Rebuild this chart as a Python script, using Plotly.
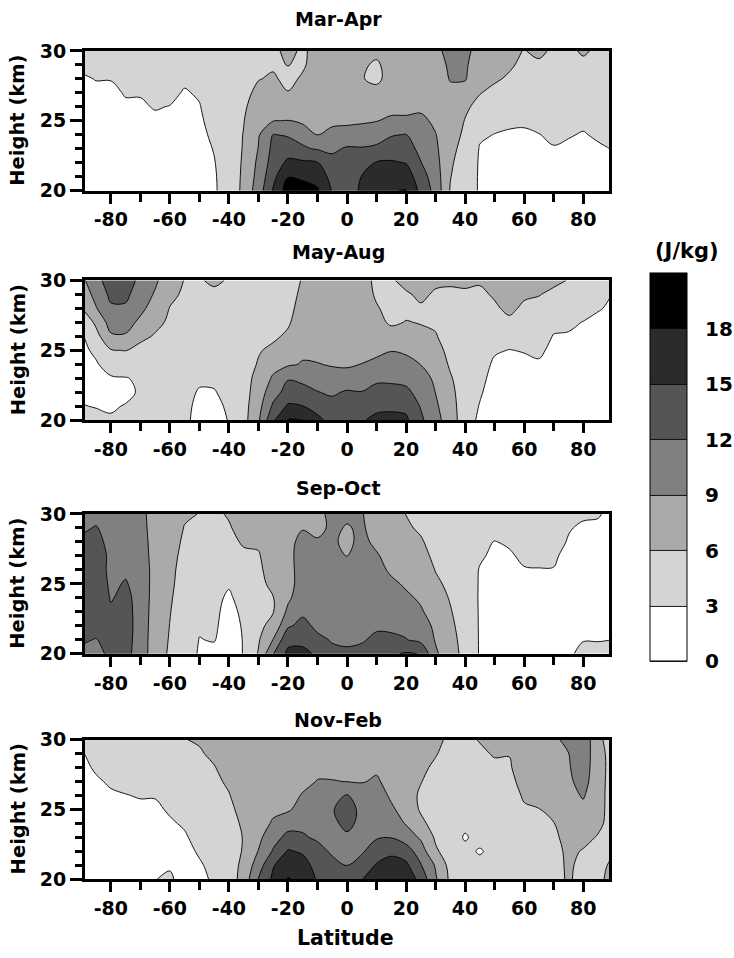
import numpy as np
import plotly.graph_objects as go

# ---------------- data ----------------
LATITUDE = [-90, -85, -80, -75, -70, -65, -60, -55, -50, -45, -40, -35, -30, -25, -20, -15, -10, -5,
            0, 5, 10, 15, 20, 25, 30, 35, 40, 45, 50, 55, 60, 65, 70, 75, 80, 85, 90]
HEIGHT_KM = [20, 21, 22, 23, 24, 25, 26, 27, 28, 29, 30]

# each inner list: values (J/kg) at heights 20..30 km for one latitude column
MAR_APR = [
    [1.0, 1.2, 1.4, 1.6, 1.8, 2.0, 2.2, 2.5, 2.8, 3.3, 3.8],
    [1.0, 1.2, 1.4, 1.6, 1.8, 2.1, 2.4, 2.7, 3.05, 3.5, 4.0],
    [1.0, 1.2, 1.4, 1.6, 1.8, 2.1, 2.4, 2.7, 3.05, 3.5, 4.0],
    [1.0, 1.3, 1.6, 1.9, 2.2, 2.5, 2.8, 3.1, 3.5, 3.9, 4.2],
    [1.0, 1.3, 1.6, 1.9, 2.2, 2.5, 2.8, 3.1, 3.5, 3.9, 4.2],
    [1.2, 1.5, 1.8, 2.1, 2.4, 2.7, 3.1, 3.5, 3.9, 4.2, 4.5],
    [1.2, 1.5, 1.8, 2.1, 2.4, 2.7, 2.95, 3.4, 3.8, 4.1, 4.4],
    [1.0, 1.3, 1.6, 1.9, 2.2, 2.4, 2.6, 2.85, 3.3, 3.8, 4.2],
    [1.5, 1.8, 2.1, 2.3, 2.5, 2.7, 2.9, 3.2, 3.6, 4.0, 4.4],
    [2.8, 2.8, 2.9, 3.1, 3.4, 3.7, 4.0, 4.3, 4.6, 4.9, 5.2],
    [3.8, 4.0, 4.2, 4.4, 4.6, 4.8, 5.0, 5.1, 5.2, 5.3, 5.4],
    [6.8, 6.6, 6.4, 6.2, 6.1, 5.9, 5.6, 5.3, 5.0, 4.8, 4.6],
    [10.5, 10.0, 9.6, 9.1, 8.7, 8.2, 7.4, 6.6, 5.9, 5.6, 5.5],
    [15.3, 14.2, 13.3, 12.8, 12.1, 8.9, 7.5, 6.8, 6.3, 5.7, 5.3],
    [19.5, 17.9, 15.6, 13.6, 11.7, 9.1, 7.5, 6.1, 5.4, 6.05, 6.8],
    [19.0, 17.6, 15.5, 12.3, 11.2, 8.3, 7.6, 7.0, 6.3, 5.7, 5.5],
    [18.4, 16.8, 15.1, 11.8, 8.9, 7.9, 7.5, 7.2, 7.0, 7.0, 7.1],
    [14.8, 14.0, 12.9, 11.5, 9.8, 8.4, 7.6, 7.2, 7.0, 6.9, 7.0],
    [13.8, 13.5, 13.0, 12.3, 10.2, 8.4, 7.6, 7.0, 6.6, 6.8, 7.0],
    [15.4, 15.1, 13.5, 12.2, 10.5, 8.6, 7.4, 6.8, 6.1, 6.3, 6.5],
    [17.3, 16.5, 15.2, 12.6, 10.6, 8.9, 7.5, 6.6, 5.6, 5.7, 6.5],
    [17.9, 16.9, 15.3, 13.4, 11.8, 9.6, 8.0, 7.3, 6.7, 6.8, 7.0],
    [18.1, 16.6, 14.9, 13.3, 12.1, 9.5, 8.2, 7.5, 7.0, 6.9, 7.0],
    [14.2, 13.3, 12.1, 11.2, 10.4, 9.6, 8.5, 7.5, 7.0, 6.8, 6.9],
    [11.0, 10.5, 10.0, 9.5, 9.1, 8.5, 7.9, 7.4, 7.2, 7.5, 8.0],
    [5.8, 6.1, 6.4, 6.8, 7.2, 7.5, 7.8, 8.2, 9.2, 9.6, 10.3],
    [4.0, 4.3, 4.6, 5.0, 5.5, 5.9, 6.4, 7.8, 9.2, 9.4, 9.8],
    [2.8, 2.75, 2.75, 2.85, 3.3, 4.2, 5.3, 6.1, 6.8, 7.4, 7.8],
    [1.8, 2.0, 2.3, 2.6, 2.95, 3.6, 4.4, 5.4, 6.3, 6.8, 7.2],
    [1.6, 1.9, 2.2, 2.5, 2.8, 3.3, 4.0, 4.8, 5.7, 6.3, 6.6],
    [1.6, 1.9, 2.2, 2.5, 2.8, 3.2, 3.8, 4.4, 5.0, 5.5, 5.9],
    [1.7, 2.0, 2.3, 2.6, 2.95, 3.5, 4.0, 4.5, 5.0, 5.6, 6.5],
    [1.8, 2.1, 2.5, 2.9, 3.3, 3.7, 4.1, 4.5, 4.9, 5.3, 5.6],
    [1.8, 2.1, 2.4, 2.75, 3.1, 3.5, 3.9, 4.3, 4.7, 5.1, 5.5],
    [1.7, 2.0, 2.3, 2.6, 2.9, 3.3, 3.8, 4.3, 4.8, 5.5, 6.3],
    [1.8, 2.1, 2.4, 2.8, 3.2, 3.6, 4.0, 4.4, 4.8, 5.2, 5.6],
    [1.9, 2.3, 2.7, 3.05, 3.4, 3.8, 4.2, 4.6, 5.0, 5.3, 5.6],
]

MAY_AUG = [
    [3.4, 3.05, 2.8, 2.6, 2.5, 2.5, 2.6, 3.5, 5.8, 7.0, 8.2],
    [3.3, 2.95, 2.7, 2.6, 2.8, 3.4, 5.0, 6.6, 8.8, 10.0, 11.0],
    [3.2, 2.8, 2.5, 2.8, 3.9, 5.8, 8.6, 10.2, 11.6, 12.6, 13.5],
    [3.3, 3.1, 2.6, 2.9, 4.2, 6.1, 8.7, 10.1, 11.6, 12.6, 13.2],
    [3.6, 3.4, 3.2, 3.3, 3.8, 5.0, 6.8, 8.4, 9.7, 10.6, 11.4],
    [3.8, 3.8, 3.8, 3.9, 4.2, 4.8, 5.7, 6.8, 7.8, 8.7, 9.5],
    [3.9, 3.9, 4.0, 4.1, 4.3, 4.6, 5.0, 5.5, 5.9, 6.6, 7.2],
    [3.5, 3.6, 3.7, 3.9, 4.1, 4.4, 4.7, 5.0, 5.3, 5.6, 5.9],
    [2.2, 2.4, 2.8, 3.4, 3.8, 4.1, 4.4, 4.6, 4.9, 5.3, 5.8],
    [2.2, 2.5, 2.9, 3.3, 3.6, 3.9, 4.2, 4.5, 4.9, 5.5, 6.4],
    [3.1, 3.3, 3.5, 3.8, 4.1, 4.4, 4.7, 5.0, 5.3, 5.6, 5.8],
    [5.0, 5.0, 4.9, 4.9, 4.8, 4.8, 4.8, 4.8, 4.8, 4.9, 5.0],
    [8.6, 8.0, 7.4, 6.9, 6.2, 5.8, 5.5, 5.3, 5.2, 5.2, 5.3],
    [14.6, 12.5, 10.8, 9.4, 8.0, 6.5, 5.6, 5.3, 5.2, 5.2, 5.3],
    [18.2, 15.4, 13.1, 11.8, 8.6, 7.3, 6.4, 5.7, 5.4, 5.3, 5.4],
    [18.1, 15.05, 13.0, 11.3, 9.2, 8.5, 7.9, 7.3, 6.8, 6.4, 6.1],
    [15.6, 14.1, 12.1, 10.7, 9.1, 8.3, 7.9, 7.5, 7.2, 7.0, 7.0],
    [14.2, 13.0, 11.6, 10.0, 8.8, 8.2, 7.9, 7.6, 7.3, 7.1, 7.0],
    [14.0, 13.3, 12.3, 10.2, 8.6, 8.2, 7.9, 7.6, 7.3, 7.1, 7.0],
    [14.8, 13.7, 12.1, 10.3, 9.05, 8.3, 7.9, 7.6, 7.3, 7.1, 6.9],
    [15.5, 14.5, 13.0, 11.4, 9.6, 8.4, 7.5, 6.8, 6.2, 5.7, 5.5],
    [15.6, 14.6, 12.8, 11.5, 10.1, 8.9, 7.2, 5.6, 5.3, 5.4, 5.8],
    [15.5, 14.3, 12.6, 11.2, 9.8, 8.6, 7.2, 6.1, 5.4, 5.8, 6.5],
    [12.6, 11.8, 11.0, 10.1, 8.95, 7.8, 6.5, 5.9, 5.8, 6.3, 6.8],
    [9.8, 9.4, 8.95, 8.5, 7.9, 7.2, 6.2, 5.6, 5.5, 5.8, 6.3],
    [7.8, 7.4, 6.9, 6.3, 5.6, 5.0, 4.7, 4.6, 4.8, 5.5, 6.4],
    [4.0, 4.1, 4.2, 4.3, 4.4, 4.5, 4.7, 4.9, 5.2, 5.7, 6.4],
    [2.6, 2.9, 3.2, 3.5, 3.8, 4.1, 4.4, 4.7, 5.0, 5.5, 6.3],
    [1.8, 2.0, 2.2, 2.4, 2.7, 3.2, 3.9, 4.8, 5.6, 6.3, 6.9],
    [1.7, 1.9, 2.1, 2.3, 2.6, 2.95, 3.8, 5.4, 6.6, 7.0, 7.2],
    [1.7, 1.9, 2.1, 2.3, 2.6, 3.1, 3.8, 4.6, 5.5, 6.4, 6.9],
    [1.8, 2.0, 2.2, 2.5, 2.8, 3.3, 3.9, 4.6, 5.3, 6.1, 6.7],
    [1.6, 1.8, 2.0, 2.2, 2.4, 2.6, 2.9, 3.5, 4.4, 5.5, 6.5],
    [1.5, 1.7, 1.9, 2.1, 2.3, 2.5, 2.85, 3.3, 4.1, 5.0, 5.9],
    [1.4, 1.6, 1.8, 2.0, 2.2, 2.4, 2.6, 2.95, 3.6, 4.4, 5.4],
    [1.3, 1.5, 1.7, 1.9, 2.1, 2.3, 2.5, 2.7, 3.1, 3.8, 4.6],
    [1.2, 1.4, 1.6, 1.8, 2.0, 2.2, 2.4, 2.6, 2.8, 2.95, 3.4],
]

SEP_OCT = [
    [11.5, 12.3, 13.0, 13.5, 13.6, 13.5, 13.3, 13.0, 12.5, 11.5, 10.8],
    [11.6, 11.9, 13.0, 13.6, 14.2, 13.8, 13.5, 13.2, 12.8, 12.2, 11.0],
    [12.3, 12.8, 13.2, 12.4, 11.8, 11.5, 11.3, 11.5, 11.2, 10.8, 10.5],
    [13.0, 13.2, 13.2, 13.0, 12.7, 12.2, 11.6, 11.0, 10.5, 10.2, 10.0],
    [10.5, 10.6, 10.8, 10.9, 11.0, 11.0, 11.0, 10.6, 10.3, 10.0, 9.8],
    [7.5, 7.5, 7.5, 7.6, 7.7, 7.8, 7.8, 7.8, 7.8, 7.8, 7.8],
    [5.6, 5.8, 5.95, 6.1, 6.3, 6.5, 6.6, 6.8, 7.0, 7.2, 7.3],
    [4.0, 4.1, 4.3, 4.5, 4.7, 4.9, 5.1, 5.3, 5.6, 5.9, 6.3],
    [2.8, 2.95, 3.2, 3.5, 3.8, 4.1, 4.4, 4.8, 5.2, 5.6, 5.95],
    [2.5, 3.1, 3.3, 3.4, 3.5, 3.7, 4.0, 4.4, 4.8, 5.3, 5.6],
    [2.0, 2.1, 2.2, 2.4, 2.7, 3.2, 3.8, 4.6, 5.3, 5.8, 6.2],
    [3.1, 3.1, 3.2, 3.4, 3.8, 4.3, 4.9, 5.5, 6.3, 6.8, 7.2],
    [6.2, 5.7, 5.4, 5.2, 5.1, 5.1, 5.3, 5.7, 6.5, 7.2, 7.6],
    [11.9, 9.1, 6.8, 5.9, 5.9, 6.8, 7.6, 8.0, 8.2, 8.4, 8.5],
    [15.6, 14.2, 11.6, 9.6, 8.5, 8.2, 8.0, 8.0, 8.0, 8.1, 8.2],
    [15.5, 14.5, 12.8, 11.5, 10.6, 10.0, 10.3, 10.5, 10.0, 8.8, 8.3],
    [14.7, 12.6, 11.4, 11.0, 10.8, 10.6, 10.5, 10.3, 9.3, 8.3, 8.0],
    [12.6, 11.8, 11.5, 11.3, 11.2, 11.0, 10.5, 10.0, 9.4, 9.5, 10.0],
    [12.3, 11.7, 11.5, 11.3, 11.1, 10.8, 10.0, 8.9, 8.4, 8.8, 9.5],
    [12.6, 11.8, 11.5, 11.3, 11.1, 10.8, 10.4, 10.0, 9.7, 9.4, 9.2],
    [13.4, 12.4, 11.7, 11.3, 11.0, 10.7, 10.0, 9.3, 8.4, 7.8, 7.5],
    [14.6, 12.4, 11.6, 11.0, 10.2, 9.6, 8.5, 7.9, 7.5, 7.2, 7.0],
    [15.3, 12.1, 11.3, 10.4, 9.5, 8.6, 7.9, 7.3, 6.8, 6.4, 5.95],
    [14.9, 11.2, 10.6, 9.3, 8.6, 8.1, 7.6, 7.0, 6.3, 5.6, 5.2],
    [9.4, 8.8, 8.3, 7.8, 7.2, 6.5, 5.9, 5.3, 4.9, 4.6, 4.4],
    [7.4, 7.0, 6.6, 6.2, 5.8, 5.4, 5.0, 4.7, 4.5, 4.3, 4.2],
    [5.0, 4.9, 4.7, 4.5, 4.3, 4.1, 4.0, 3.9, 3.8, 3.8, 3.7],
    [2.8, 2.8, 2.8, 2.8, 2.8, 2.85, 2.9, 3.2, 3.4, 3.5, 3.5],
    [1.8, 1.9, 2.0, 2.1, 2.2, 2.3, 2.5, 2.7, 2.95, 3.4, 3.6],
    [1.8, 1.9, 2.0, 2.1, 2.2, 2.3, 2.5, 2.8, 3.2, 3.5, 3.7],
    [1.8, 1.9, 2.0, 2.1, 2.3, 2.6, 2.9, 3.3, 3.6, 3.8, 3.9],
    [1.9, 2.0, 2.1, 2.2, 2.4, 2.7, 2.95, 3.3, 3.6, 3.8, 3.9],
    [2.6, 2.5, 2.4, 2.4, 2.5, 2.7, 2.95, 3.2, 3.5, 3.7, 3.8],
    [2.8, 2.6, 2.4, 2.3, 2.3, 2.4, 2.5, 2.6, 2.9, 3.1, 3.3],
    [3.3, 2.95, 2.6, 2.4, 2.3, 2.3, 2.3, 2.4, 2.6, 2.8, 3.2],
    [3.3, 2.95, 2.6, 2.4, 2.3, 2.2, 2.2, 2.3, 2.5, 2.8, 3.1],
    [3.4, 3.0, 2.7, 2.4, 2.3, 2.2, 2.2, 2.2, 2.3, 2.5, 2.7],
]

NOV_FEB = [
    [1.5, 1.6, 1.7, 1.8, 1.9, 2.0, 2.2, 2.4, 2.6, 2.85, 3.3],
    [1.6, 1.7, 1.8, 1.9, 2.0, 2.2, 2.4, 2.8, 3.2, 3.6, 4.0],
    [1.6, 1.7, 1.8, 1.9, 2.1, 2.4, 2.8, 3.2, 3.6, 4.0, 4.4],
    [1.7, 1.8, 1.9, 2.0, 2.2, 2.5, 2.95, 3.4, 3.8, 4.2, 4.6],
    [1.8, 1.9, 2.0, 2.2, 2.4, 2.7, 3.1, 3.6, 4.1, 4.5, 4.9],
    [2.95, 2.6, 2.3, 2.3, 2.4, 2.7, 3.1, 3.6, 4.1, 4.6, 5.0],
    [3.3, 2.8, 2.4, 2.5, 2.8, 3.2, 3.7, 4.2, 4.7, 5.1, 5.5],
    [2.2, 2.3, 2.5, 2.8, 3.2, 3.7, 4.2, 4.7, 5.2, 5.6, 5.95],
    [2.5, 2.8, 3.2, 3.6, 4.0, 4.4, 4.8, 5.2, 5.5, 5.8, 6.2],
    [3.3, 3.5, 3.8, 4.1, 4.4, 4.8, 5.2, 5.6, 5.9, 6.4, 6.8],
    [4.5, 4.7, 4.9, 5.1, 5.3, 5.6, 5.9, 6.3, 6.8, 7.2, 7.6],
    [7.2, 6.7, 6.2, 6.1, 6.3, 6.6, 7.0, 7.4, 7.8, 8.1, 8.4],
    [12.1, 10.6, 9.1, 8.3, 7.9, 7.7, 7.6, 7.6, 7.6, 7.7, 7.8],
    [15.6, 14.8, 12.3, 10.9, 9.3, 8.5, 8.0, 7.7, 7.6, 7.6, 7.6],
    [18.2, 16.7, 15.3, 12.8, 10.9, 8.6, 8.0, 7.7, 7.5, 7.4, 7.4],
    [17.2, 16.3, 14.6, 12.3, 11.4, 10.2, 9.2, 8.3, 7.8, 7.5, 7.4],
    [14.7, 13.8, 12.9, 11.6, 11.0, 10.6, 10.0, 9.1, 8.4, 8.0, 7.8],
    [13.6, 12.8, 11.6, 11.2, 11.5, 11.8, 11.0, 9.1, 8.3, 8.0, 7.8],
    [12.9, 11.95, 11.3, 11.6, 12.6, 13.2, 12.2, 8.95, 8.2, 7.9, 7.7],
    [14.9, 13.0, 11.7, 11.3, 11.4, 11.3, 10.8, 8.8, 8.1, 7.8, 7.6],
    [16.5, 15.3, 13.2, 11.8, 11.3, 11.0, 10.5, 9.4, 8.5, 8.0, 7.8],
    [17.3, 16.3, 14.3, 11.9, 10.5, 9.5, 8.5, 7.9, 7.6, 7.4, 7.3],
    [17.0, 15.6, 13.5, 10.5, 8.8, 7.7, 7.2, 7.0, 6.9, 6.8, 6.8],
    [14.0, 12.2, 10.4, 8.6, 6.6, 5.7, 5.6, 6.1, 6.6, 6.8, 6.9],
    [9.4, 8.7, 6.4, 5.6, 5.0, 4.8, 4.8, 5.0, 5.5, 6.2, 6.8],
    [5.4, 5.0, 4.7, 4.5, 4.3, 4.2, 4.2, 4.3, 4.5, 4.9, 5.3],
    [4.2, 4.0, 3.8, 2.7, 3.7, 3.6, 3.7, 3.9, 4.2, 4.6, 5.2],
    [4.0, 3.9, 2.7, 4.0, 4.0, 4.0, 4.2, 4.4, 4.8, 5.4, 6.2],
    [4.1, 4.0, 4.0, 4.0, 4.1, 4.2, 4.4, 4.7, 5.3, 6.3, 7.0],
    [4.2, 4.2, 4.2, 4.3, 4.4, 4.6, 4.9, 5.3, 5.7, 6.1, 6.7],
    [4.5, 4.6, 4.7, 4.9, 5.3, 5.7, 6.3, 6.9, 7.5, 8.0, 8.4],
    [4.7, 4.9, 5.1, 5.4, 5.7, 5.95, 6.6, 7.2, 7.8, 8.3, 8.7],
    [5.1, 5.3, 5.5, 5.7, 5.95, 6.4, 7.0, 7.6, 8.2, 8.5, 8.6],
    [6.3, 6.3, 6.3, 6.5, 6.9, 7.4, 7.9, 8.4, 8.7, 8.95, 9.6],
    [5.2, 5.5, 5.9, 6.4, 7.2, 8.2, 9.3, 10.2, 10.8, 11.3, 11.6],
    [5.3, 5.5, 5.7, 5.9, 6.3, 6.6, 6.9, 7.0, 6.9, 6.6, 6.2],
    [7.0, 6.3, 5.8, 5.6, 5.5, 5.3, 5.0, 5.0, 5.2, 5.4, 5.6],
]

PANEL_TITLES = ["Mar-Apr", "May-Aug", "Sep-Oct", "Nov-Feb"]
PANEL_DATA = [MAR_APR, MAY_AUG, SEP_OCT, NOV_FEB]
LEVEL_TICKS = [0, 3, 6, 9, 12, 15, 18]
LAT_TICKS = [-80, -60, -40, -20, 0, 20, 40, 60, 80]
LAT_TICK_TEXT = ["-80", "-60", "-40", "-20", "0", "20", "40", "60", "80"]
BAND_COLORS = ["#ffffff", "#d4d4d4", "#aaaaaa", "#808080", "#555555", "#2b2b2b", "#000000"]

# ---------------- layout geometry ----------------
W, H = 734, 958
PX0, PX1 = 85, 609


def fy(screen_y):
    """figure pixel row that lands on the wanted row of the captured picture"""
    return (screen_y - 10.0) / 0.979


# wanted rows in the picture (top/bottom of each plot frame, titles, ...)
PANEL_TOP_PX = [50, 280, 514, 740]
PANEL_BOT_PX = [190, 420, 654, 880]
TITLE_PX = [18, 251, 488, 720]
TITLE_X = 338

FONT = "DejaVu Sans"
BLACK = "black"

# stepped colour scale: 7 bands over 0..21
n = len(BAND_COLORS)
colorscale = []
for k, c in enumerate(BAND_COLORS):
    colorscale.append([k / n, c])
    colorscale.append([(k + 1) / n, c])

cb_top, cb_bot = fy(273), fy(662)

fig = go.Figure()
for i, (title, cols) in enumerate(zip(PANEL_TITLES, PANEL_DATA)):
    z = np.array(cols, dtype=float).T  # rows = heights, cols = latitudes
    sfx = "" if i == 0 else str(i + 1)
    fig.add_trace(go.Contour(
        x=LATITUDE, y=HEIGHT_KM, z=z,
        xaxis="x" + sfx, yaxis="y" + sfx,
        zmin=0, zmax=21, autocontour=False,
        contours=dict(start=0, end=21, size=3, coloring="fill", showlines=True),
        line=dict(color=BLACK, width=0.9),
        colorscale=colorscale,
        showscale=(i == 0),
        hoverinfo="skip",
        colorbar=dict(
            x=650 / W, xanchor="left", xref="paper", xpad=0,
            y=1 - cb_top / H, yanchor="top", yref="paper", ypad=0,
            len=(cb_bot - cb_top) / H, lenmode="fraction",
            thickness=37, thicknessmode="pixels",
            outlinewidth=1, outlinecolor=BLACK,
            tickmode="array", tickvals=LEVEL_TICKS,
            ticktext=[str(v) for v in LEVEL_TICKS],
            ticks="outside", ticklen=14, tickcolor="rgba(0,0,0,0)",
            ticklabelposition="outside",
            tickfont=dict(family=FONT, size=20, color=BLACK, weight="bold"),
        ),
    ))

    top, bot = fy(PANEL_TOP_PX[i]), fy(PANEL_BOT_PX[i])
    ydom = [1 - bot / H, 1 - top / H]
    fig.layout["xaxis" + sfx] = dict(
        domain=[PX0 / W, PX1 / W], anchor="y" + sfx, range=[-88.75, 88.75],
        tickmode="array", tickvals=LAT_TICKS, ticktext=LAT_TICK_TEXT,
        ticks="outside", ticklen=10, tickwidth=2.5, tickcolor=BLACK,
        minor=dict(tickmode="array", tickvals=[-70, -50, -30, -10, 10, 30, 50, 70],
                   ticks="outside", ticklen=8, tickwidth=2.5, tickcolor=BLACK),
        showline=True, linewidth=3, linecolor=BLACK, mirror=True,
        showgrid=False, zeroline=False,
        tickfont=dict(family=FONT, size=19, color=BLACK, weight="bold"),
    )
    fig.layout["yaxis" + sfx] = dict(
        domain=ydom, anchor="x" + sfx, range=[20, 30],
        tickmode="array", tickvals=[20, 25, 30], ticks="outside", ticklen=12, tickwidth=2.5,
        tickcolor=BLACK,
        minor=dict(tickmode="array", tickvals=[21, 22, 23, 24, 26, 27, 28, 29],
                   ticks="outside", ticklen=7, tickwidth=2.5, tickcolor=BLACK),
        showline=True, linewidth=3, linecolor=BLACK, mirror=True,
        showgrid=False, zeroline=False,
        tickfont=dict(family=FONT, size=19, color=BLACK, weight="bold"),
    )

annotations = []
for i, title in enumerate(PANEL_TITLES):
    annotations.append(dict(
        text=title, x=TITLE_X / W, y=1 - fy(TITLE_PX[i]) / H, xref="paper", yref="paper",
        xanchor="center", yanchor="middle", showarrow=False,
        font=dict(family=FONT, size=19, color=BLACK, weight="bold")))
    annotations.append(dict(
        text="Height (km)", x=18 / W,
        y=1 - fy((PANEL_TOP_PX[i] + PANEL_BOT_PX[i]) / 2) / H,
        xref="paper", yref="paper", xanchor="center", yanchor="middle", textangle=-90,
        showarrow=False, font=dict(family=FONT, size=19.5, color=BLACK, weight="bold")))
annotations.append(dict(
    text="Latitude", x=345 / W, y=1 - min(fy(944), 949) / H, xref="paper", yref="paper",
    xanchor="center", yanchor="middle", showarrow=False,
    font=dict(family=FONT, size=20.5, color=BLACK, weight="bold")))
annotations.append(dict(
    text="(J/kg)", x=687 / W, y=1 - fy(250) / H, xref="paper", yref="paper",
    xanchor="center", yanchor="middle", showarrow=False,
    font=dict(family=FONT, size=21, color=BLACK, weight="bold")))

fig.update_layout(
    width=W, height=H, margin=dict(l=0, r=0, t=0, b=0),
    paper_bgcolor="white", plot_bgcolor="white",
    showlegend=False, annotations=annotations,
)

# remove the default page margin so the 734x958 figure fills the window exactly
fig.write_html("out.html", config={"displayModeBar": False},
               post_script="document.body.style.margin='0px';document.body.style.overflow='hidden';")
